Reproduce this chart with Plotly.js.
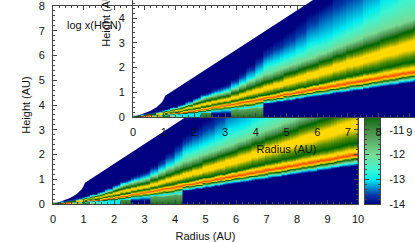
<!DOCTYPE html>
<html><head><meta charset="utf-8">
<script src="https://cdn.plot.ly/plotly-3.0.1.min.js"></script>
<style>html,body{margin:0;padding:0;width:415px;height:242px;overflow:hidden;background:#fff}
#c{position:absolute;left:0;top:-90px;width:470px;height:340px}</style>
</head><body><div id="c"></div>
<script>
const radiusEdges=[0,.3,.6,.8,1,1.25,1.5,1.75,2,2.25,2.6,2.9,3.25,3.49,3.74,4.03,4.3,4.62,4.95,5.34,5.7,6.1,6.56,7,7.54,8.1,8.7,9.35,10];
const floorBottom=[-14,-7.5,-8.5,-9,-9,-12,-12.8,-13,-13,-10.6,-14,-14,-10.6,-10.6,-10.6,-10.6,-14,-14,-14,-14,-14,-14,-14,-14,-14,-14,-14,-14];
const floorTop=[-14,-8,-9,-9.5,-10.4,-12,-12.8,-13,-13,-11,-14,-14,-11.3,-11.3,-11.3,-11.3,-14,-14,-14,-14,-14,-14,-14,-14,-14,-14,-14,-14];
const levelValues=[-13,-10.4,-7.2,-9,-10.4,-8.9,-10.4,-12,-13,-13.6,-14];
const levelHeights=[
[.005,.01,.015,.02,.025,.028,.032,.036,.04,.043,.046,.05],
[.03,.035,.04,.05,.06,.065,.07,.08,.09,.10,.11,.12],
[.04,.045,.05,.07,.08,.09,.10,.12,.13,.15,.16,.17],
[.05,.06,.07,.09,.10,.11,.13,.16,.18,.20,.21,.22],
[.05,.08,.10,.12,.13,.15,.18,.22,.25,.27,.29,.31],
[.07,.10,.12,.15,.17,.20,.25,.30,.33,.36,.39,.41],
[.08,.12,.15,.18,.21,.25,.31,.37,.42,.45,.49,.52],
[.09,.14,.18,.22,.26,.30,.38,.46,.53,.57,.62,.66],
[.10,.18,.22,.27,.31,.36,.46,.56,.65,.70,.76,.82],
[.16,.22,.27,.34,.38,.43,.55,.66,.79,.85,.93,1.0],
[.13,.25,.33,.42,.46,.51,.63,.75,.90,.97,1.08,1.18],
[.15,.30,.38,.48,.53,.58,.71,.85,1.0,1.08,1.22,1.35],
[.30,.36,.44,.55,.60,.65,.80,.98,1.15,1.25,1.43,1.58],
[.32,.39,.48,.61,.66,.72,.90,1.09,1.30,1.42,1.65,1.83],
[.34,.42,.52,.66,.72,.79,1.0,1.21,1.47,1.60,1.90,2.10],
[.37,.46,.58,.73,.79,.86,1.09,1.33,1.62,1.85,2.20,2.45],
[.55,.62,.71,.79,.86,.93,1.20,1.46,1.78,2.16,2.54,2.81],
[.60,.68,.77,.86,.94,1.02,1.32,1.60,1.92,2.32,2.77,3.11],
[.67,.75,.85,.94,1.03,1.10,1.46,1.77,2.08,2.52,3.04,3.45],
[.74,.82,.92,1.02,1.12,1.20,1.59,1.93,2.25,2.76,3.37,3.86],
[.81,.90,1.0,1.11,1.22,1.31,1.73,2.10,2.42,3.04,3.78,4.25],
[.89,.98,1.08,1.20,1.32,1.44,1.89,2.29,2.62,3.23,4.18,4.56],
[.97,1.06,1.17,1.30,1.43,1.57,2.06,2.48,2.85,3.53,4.51,5.15],
[1.06,1.15,1.27,1.41,1.54,1.71,2.24,2.70,3.10,3.85,4.87,5.60],
[1.17,1.26,1.38,1.53,1.66,1.87,2.44,2.94,3.38,4.30,5.40,6.00],
[1.27,1.37,1.50,1.66,1.79,2.04,2.66,3.20,3.65,4.83,6.05,6.45],
[1.39,1.49,1.64,1.79,1.92,2.22,2.89,3.47,3.90,5.41,6.67,6.95],
[1.51,1.61,1.79,1.94,2.08,2.40,3.13,3.75,4.25,6.00,7.35,7.45]];
const wedgeR=[0,.23,.56,.78,.94,.99,1.05,10];
const wedgeH=[0,.09,.24,.4,.6,.7,.86,8.05];
const barTicks=[-14,-13,-12,-11,-10,-9,-8,-7,-6];
const barTickLabels=['-14','-13','-12','-11','-10','-9','-8','-7','-6'];
const barEnds=[-14,-6];
const radiusTicks=[0,1,2,3,4,5,6,7,8,9,10];
const heightTicks=[0,1,2,3,4,5,6,7,8];
const scale=[[0,'#000080'],[.05,'#003caa'],[.0875,'#0096d2'],[.125,'#00ebf0'],[.175,'#3cf5d2'],[.25,'#78dc96'],[.375,'#468c46'],[.45,'#006400'],[.51,'#4d8a00'],[.59,'#ffd800'],[.625,'#ffdc00'],[.70,'#ffb000'],[.79,'#ff6e00'],[1,'#c80000']];
const W=470,H=340,T=90;
const dx=(a,b)=>[a/W,b/W];
const dy=(top,bot)=>[(H-(bot+T))/H,(H-(top+T))/H];
const ink='#444',font={family:'Liberation Sans, Arial, sans-serif',size:11,color:'#111'};
const traces=[],shapes=[];
// each zone keeps its levels at constant height/radius, so its cells are slices along rays from the star
function disk(xa,ya){
  levelHeights.forEach((hs,i)=>{
    const r0=radiusEdges[i],r1=radiusEdges[i+1],rc=(r0+r1)/2;
    const n=i===0?1:Math.max(1,Math.round((r1-r0)/.1));
    const vals=[floorBottom[i],floorTop[i]].concat(levelValues);
    for(let k=0;k<n;k++){
      const a=r0+(r1-r0)*k/n,b=r0+(r1-r0)*(k+1)/n,s=i===0?1:((a+b)/2)/rc;
      traces.push({type:'heatmap',xaxis:xa,yaxis:ya,x:[a,b],y:[0].concat(hs.map(h=>h*s)),z:vals.map(v=>[v,v]),
        zmin:-14,zmax:-6,zsmooth:'best',colorscale:scale,showscale:false,hoverinfo:'skip'});
    }
  });
  let p='M 0 0';wedgeR.forEach((r,i)=>{p+=' L '+r+' '+wedgeH[i]});p+=' L 10 0 Z';
  shapes.push({type:'path',path:p,xref:xa,yref:ya,layer:'below',fillcolor:'#000080',line:{width:0}});
}
disk('x','y');
traces.push({type:'heatmap',xaxis:'x2',yaxis:'y2',x:[0,1],y:barEnds,z:barEnds.map(v=>[v,v]),zmin:-14,zmax:-6,zsmooth:'best',colorscale:scale,showscale:false,hoverinfo:'skip'});
disk('x3','y3');
const minorTicks=d=>({dtick:d,ticks:'inside',ticklen:2,tickcolor:ink,tickwidth:1});
const xAx=(dom,anchor,lab)=>({domain:dom,anchor:anchor,range:[0,10],tickvals:radiusTicks,ticks:'inside',ticklen:4,tickcolor:ink,minor:minorTicks(.2),
  showline:true,linecolor:ink,linewidth:1,mirror:'ticks',showgrid:false,zeroline:false,tickfont:font,ticklabelstandoff:5,
  title:{text:'Radius (AU)',font:font,standoff:8}});
const yAx=(dom,anchor)=>({domain:dom,anchor:anchor,range:[0,8],tickvals:heightTicks,ticks:'inside',ticklen:4,tickcolor:ink,minor:minorTicks(.2),
  showline:true,linecolor:ink,linewidth:1,mirror:'ticks',showgrid:false,zeroline:false,tickfont:font,ticklabelstandoff:5,
  title:{text:'Height (AU)',font:font,standoff:5}});
const layout={width:W,height:H,margin:{l:0,r:0,t:0,b:0},autosize:false,paper_bgcolor:'rgba(0,0,0,0)',plot_bgcolor:'rgba(0,0,0,0)',showlegend:false,
  xaxis:xAx(dx(53,358),'y'),yaxis:yAx(dy(6,204),'x'),
  xaxis2:{domain:dx(365,380),anchor:'y2',range:[0,1],showticklabels:false,ticks:'',showline:true,linecolor:ink,mirror:true,showgrid:false,zeroline:false},
  yaxis2:{domain:dy(6,204),anchor:'x2',side:'right',range:[-14,-6],tickvals:barTicks,ticktext:barTickLabels,ticks:'inside',ticklen:4,tickcolor:ink,minor:minorTicks(.2),
    showline:true,linecolor:ink,mirror:'ticks',showgrid:false,zeroline:false,tickfont:font,ticklabelstandoff:6},
  xaxis3:xAx(dx(133,440),'y3'),yaxis3:yAx(dy(-81,117),'x3'),
  shapes:shapes,
  annotations:[{text:'log x(HCN)',xref:'x',yref:'y',x:1.34,y:7.23,showarrow:false,font:font}]};
Plotly.newPlot('c',traces,layout,{staticPlot:true,displayModeBar:false});
</script></body></html>
